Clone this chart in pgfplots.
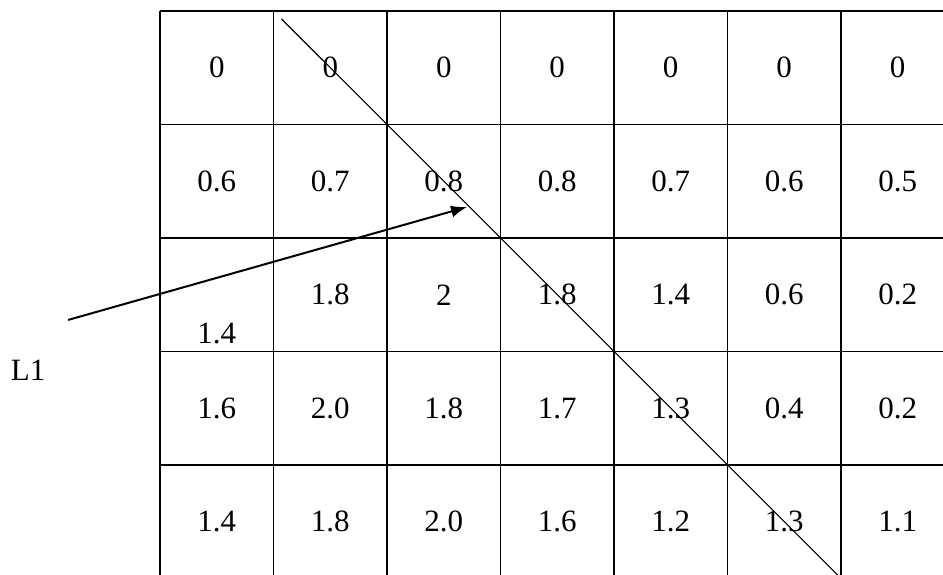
\documentclass[border=0pt]{standalone}
\usepackage{fontspec}
\setmainfont{Liberation Serif}
\usepackage{pgfplots}
\pgfplotsset{compat=1.18}
\usetikzlibrary{arrows.meta}

\begin{document}
\begin{tikzpicture}
\begin{axis}[
    scale only axis,
    width=471.5pt, height=287.5pt,
    xmin=-1.41, xmax=6.899,
    ymin=0.031, ymax=5.097,
    axis line style={draw=none},
    xtick=\empty, ytick=\empty,
    clip=true,
]

% grid of the table
\addplot[black, line width=0.9pt, unbounded coords=jump] coordinates {
    (0,0.031) (0,5) (nan,nan)
    (1,0.031) (1,5) (nan,nan)
    (2,0.031) (2,5) (nan,nan)
    (3,0.031) (3,5) (nan,nan)
    (4,0.031) (4,5) (nan,nan)
    (5,0.031) (5,5) (nan,nan)
    (6,0.031) (6,5) (nan,nan)
    (0,1) (6.899,1) (nan,nan)
    (0,2) (6.899,2) (nan,nan)
    (0,3) (6.899,3) (nan,nan)
    (0,4) (6.899,4) (nan,nan)
    (0,5) (6.899,5)
};

% cell values
\addplot[draw=none, mark=none, nodes near coords, point meta=explicit symbolic,
    every node near coord/.style={anchor=center, inner sep=0pt, font=\fontsize{15.5}{18}\selectfont}]
    table[meta=v] {
x y v
0.5 4.5 0
1.5 4.5 0
2.5 4.5 0
3.5 4.5 0
4.5 4.5 0
5.5 4.5 0
6.5 4.5 0
0.5 3.5 0.6
1.5 3.5 0.7
2.5 3.5 0.8
3.5 3.5 0.8
4.5 3.5 0.7
5.5 3.5 0.6
6.5 3.5 0.5
0.5 2.163 1.4
1.5 2.5 1.8
2.5 2.5 2
3.5 2.5 1.8
4.5 2.5 1.4
5.5 2.5 0.6
6.5 2.5 0.2
0.5 1.5 1.6
1.5 1.5 2.0
2.5 1.5 1.8
3.5 1.5 1.7
4.5 1.5 1.3
5.5 1.5 0.4
6.5 1.5 0.2
0.5 0.5 1.4
1.5 0.5 1.8
2.5 0.5 2.0
3.5 0.5 1.6
4.5 0.5 1.2
5.5 0.5 1.3
6.5 0.5 1.1
};

% diagonal line
\addplot[black, line width=0.55pt] coordinates {(1.07,4.93) (5.97,0.031)};

% arrow
\addplot[black, line width=1pt, -{Latex[length=8pt,width=6pt]}] coordinates {(-0.81,2.278) (2.705,3.273)};

% label
\addplot[draw=none, mark=none, nodes near coords, point meta=explicit symbolic,
    every node near coord/.style={anchor=center, inner sep=0pt, font=\fontsize{15.5}{18}\selectfont}]
    table[meta=v] {
x y v
-1.163 1.837 L1
};

\end{axis}
\end{tikzpicture}
\end{document}
